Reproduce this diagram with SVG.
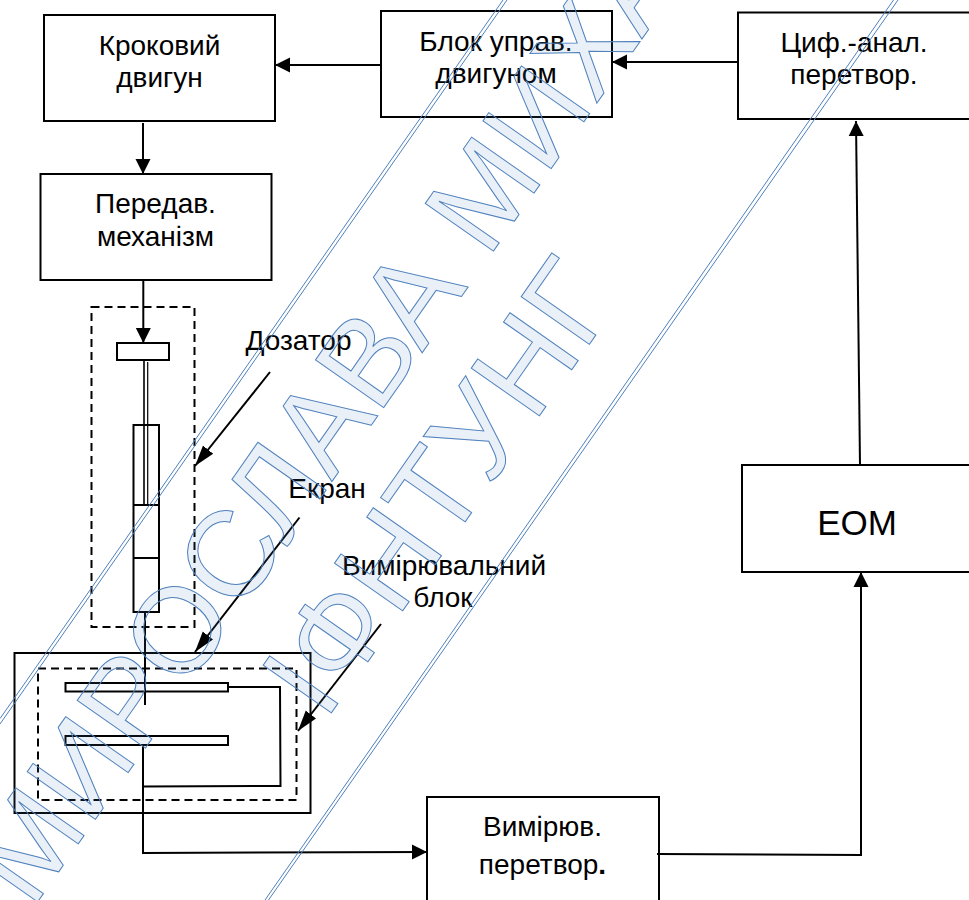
<svg xmlns="http://www.w3.org/2000/svg" width="969" height="900" viewBox="0 0 969 900">
<style>
.b{fill:#fff;stroke:#000;stroke-width:2}
.o{fill:none;stroke:#000;stroke-width:2}
.d{fill:none;stroke:#000;stroke-width:2;stroke-dasharray:8 5}
.t{font-family:"Liberation Sans",Arial,sans-serif;font-size:28px;fill:#000;text-anchor:middle}
.c{fill:none;stroke:#000;stroke-width:2}
.a{marker-end:url(#ah)}
.s{marker-end:url(#as)}
.wl{fill:none;stroke:#4f81bd;stroke-width:1}
.wt{font-family:"Liberation Sans",Arial,sans-serif;font-size:121px;fill:#4f81bd;fill-opacity:.12;stroke:#4f81bd;stroke-width:1}
</style>
<defs>
<marker id="ah" markerUnits="userSpaceOnUse" markerWidth="16" markerHeight="16" refX="15" refY="8" orient="auto" viewBox="0 0 16 16"><path d="M0 .5L15 8L0 15.5Z" fill="#000"/></marker>
<marker id="as" markerUnits="userSpaceOnUse" markerWidth="22" markerHeight="16" refX="21" refY="8" orient="auto" viewBox="0 0 22 16"><path d="M0 1.5L21 8L0 14.5Z" fill="#000"/></marker>
</defs>
<rect width="969" height="900" fill="#fff"/>
<g id="node-krokovyi"><rect class="b" x="44" y="15" width="231" height="106"/><text class="t" x="159.5" y="55">Кроковий</text><text class="t" x="159.5" y="87">двигун</text></g>
<g id="node-peredav"><rect class="b" x="40.5" y="174" width="231" height="106"/><text class="t" x="155.5" y="213">Передав.</text><text class="t" x="155.5" y="246">механізм</text></g>
<g id="node-blok"><rect class="b" x="381" y="11" width="231" height="106"/><text class="t" x="496" y="51">Блок управ.</text><text class="t" x="496" y="83">двигуном</text></g>
<g id="node-tsyf"><rect class="b" x="738" y="12.5" width="233" height="106.5"/><text class="t" x="854" y="52">Циф.-анал.</text><text class="t" x="854" y="84">перетвор.</text></g>
<g id="node-eom"><rect class="b" x="742" y="465" width="229" height="107"/><text class="t" x="857" y="535" style="font-size:35px">ЕОМ</text></g>
<g id="node-vymiriuv"><rect class="b" x="427" y="797" width="232" height="106"/><text class="t" x="542.5" y="836">Вимірюв.</text><text class="t" x="542.5" y="874">перетвор<tspan font-weight="bold">.</tspan></text></g>
<g id="node-dozator">
<rect class="d" x="91.5" y="307" width="103" height="320"/>
<rect class="b" x="117" y="343" width="52" height="17"/>
<rect class="o" x="133.5" y="425" width="25.5" height="187"/>
<path class="o" d="M133.5 505H159M133.5 558H159"/>
<path d="M144 360V505" fill="none" stroke="#000" stroke-width="1.6"/>
<path d="M147.7 362V505" fill="none" stroke="#000" stroke-width="1.2"/>
<path class="o" d="M145 612V705"/>
</g>
<g id="node-vymiriuvalnyi">
<rect class="o" x="14.5" y="653" width="296" height="160"/>
<rect class="d" x="38" y="668.5" width="258.5" height="131.5"/>
<rect class="b" x="65.5" y="683" width="162.5" height="8.5" style="fill:none"/>
<rect class="b" x="65.5" y="736" width="162.5" height="9" style="fill:none"/>
</g>
<g id="labels">
<text class="t" x="298.5" y="350">Дозатор</text>
<text class="t" x="327" y="498">Екран</text>
<text class="t" x="444" y="575">Вимірювальний</text>
<text class="t" x="443" y="607">блок</text>
</g>
<g id="connectors">
<path class="c a" d="M381 65H275"/>
<path class="c a" d="M738 62H612"/>
<path class="c a" d="M143 123V174"/>
<path class="c a" d="M143.3 280V343"/>
<path class="c a" d="M143 745V853L427 852"/>
<path class="c" d="M228 687H280L280.5 786L143 786.5"/>
<path class="c a" d="M657 854L861 855V572"/>
<path class="c a" d="M860 465L856 121"/>
<path class="c s" d="M270 372L195 466"/>
<path class="c s" d="M299.5 517.5L195 652"/>
<path class="c s" d="M381 624L298 731"/>
</g>
<g id="watermark">
<path class="wl" d="M503 0L0 718.6M507 0L0 724"/>
<path class="wl" d="M893.5 0L265 900M898 0L268.5 900"/>
<text class="wt" transform="translate(32 910) rotate(-55)">МИРОСЛАВА МИХА</text>
<text class="wt" transform="translate(325 722) rotate(-55)">ІФНТУНГ</text>
</g>
</svg>
